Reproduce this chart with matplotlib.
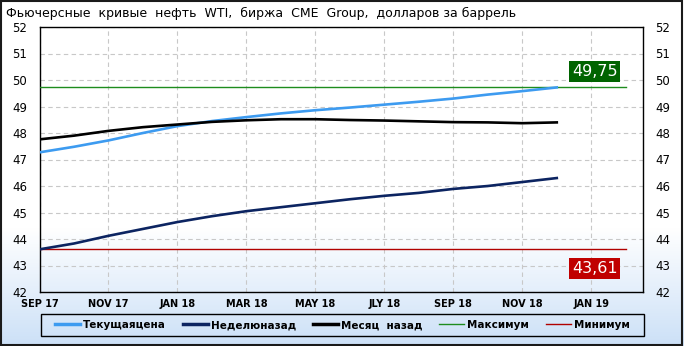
import matplotlib
matplotlib.use('Agg')
import numpy as np
import matplotlib.pyplot as plt
from matplotlib.lines import Line2D
from matplotlib.patches import Rectangle

# Данные (помесячно, SEP 17 .. DEC 18)
months = list(range(16))
current_price = [47.27, 47.48, 47.72, 48.00, 48.26, 48.45, 48.60, 48.74,
                 48.86, 48.96, 49.07, 49.18, 49.30, 49.45, 49.58, 49.72]
week_ago = [43.61, 43.83, 44.12, 44.38, 44.64, 44.86, 45.05, 45.20,
            45.35, 45.50, 45.63, 45.74, 45.89, 46.00, 46.15, 46.30]
month_ago = [47.76, 47.90, 48.08, 48.22, 48.32, 48.42, 48.48, 48.52,
             48.52, 48.49, 48.47, 48.44, 48.41, 48.40, 48.37, 48.40]
max_value = 49.75
min_value = 43.61

tick_pos = [0, 2, 4, 6, 8, 10, 12, 14, 16]
tick_labels = ["SEP 17", "NOV 17", "JAN 18", "MAR 18", "MAY 18",
               "JLY 18", "SEP 18", "NOV 18", "JAN 19"]
series_names = ["Текущаяцена", "Неделюназад", "Месяц  назад", "Максимум", "Минимум"]

C_BLUE = "#3d9bf0"
C_NAVY = "#0c2461"
C_BLACK = "#000000"
C_GREEN = "#1e8c1e"
C_RED = "#b00000"

W, H = 684, 346
fig = plt.figure(figsize=(W / 100, H / 100), dpi=100)

# фон с градиентом
bg = fig.add_axes([0, 0, 1, 1], zorder=-10)
rows = np.linspace(0, 1, H)
t = np.clip((rows - 0.66) / 0.34, 0, 1)[:, None]
top = np.array([1.0, 1.0, 1.0])
bottom = np.array([0.80, 0.88, 0.97])
grad = (1 - t) * top + t * bottom
bg.imshow(grad[:, None, :].repeat(2, axis=1), aspect='auto', extent=[0, 1, 0, 1])
bg.add_patch(Rectangle((0.002, 0.004), 0.995, 0.992, fill=False,
                       edgecolor="#1a1a1a", linewidth=1.5, transform=bg.transAxes))
# рамка легенды
bg.add_patch(Rectangle((41 / W, 1 - 336 / H), (644 - 41) / W, 22 / H, fill=False,
                       edgecolor="black", linewidth=1.0, transform=bg.transAxes))
bg.set_axis_off()

ax = fig.add_axes([39.5 / W, 1 - 292 / H, (643 - 39.5) / W, (292 - 27) / H])
ax.set_facecolor('none')

ax.plot(months, current_price, color=C_BLUE, lw=1.9, zorder=4)
ax.plot(months, week_ago, color=C_NAVY, lw=1.9, zorder=4)
ax.plot(months, month_ago, color=C_BLACK, lw=1.9, zorder=4)
ax.plot([0, 17], [max_value, max_value], color=C_GREEN, lw=1.0, zorder=3)
ax.plot([0, 17], [min_value, min_value], color=C_RED, lw=1.0, zorder=3)

ax.text(16.1, max_value + 0.57, f"{max_value:.2f}".replace('.', ','), color='white',
        fontsize=11.5, ha='center', va='center', zorder=5,
        bbox=dict(boxstyle='square,pad=0.18', facecolor="#006400", edgecolor='none'))
ax.text(16.1, min_value - 0.72, f"{min_value:.2f}".replace('.', ','), color='white',
        fontsize=11.5, ha='center', va='center', zorder=5,
        bbox=dict(boxstyle='square,pad=0.18', facecolor="#c00000", edgecolor='none'))

ax.set_xlim(0, 17.5)
ax.set_ylim(42, 52)
ax.set_yticks(range(42, 53))
ax.set_xticks(tick_pos)
ax.set_xticklabels(tick_labels, fontsize=7, fontweight='bold')
ax.tick_params(axis='x', length=0, pad=5)
ax.tick_params(axis='y', length=0, pad=9, labelsize=8.5, labelright=True)
ax.grid(True, color="#c8c8c8", linestyle=(0, (4, 3)), lw=0.8)
for s in ax.spines.values():
    s.set_color('black')
    s.set_linewidth(1.0)

fig.text(6 / W, 1 - 13 / H, "Фьючерсные  кривые  нефть  WTI,  биржа  CME  Group,  долларов за баррель",
         fontsize=9, va='center', ha='left')

handles = [Line2D([], [], color=C_BLUE, lw=2.5),
           Line2D([], [], color=C_NAVY, lw=2.5),
           Line2D([], [], color=C_BLACK, lw=2.5),
           Line2D([], [], color=C_GREEN, lw=1.0),
           Line2D([], [], color=C_RED, lw=1.0)]
leg = fig.legend(handles, series_names, loc='center', ncol=5,
                 bbox_to_anchor=(342.5 / W, 1 - 325 / H),
                 fontsize=7.5, frameon=False, handlelength=2.4,
                 handletextpad=0.3, columnspacing=1.6, borderaxespad=0)
for txt in leg.get_texts():
    txt.set_fontweight('semibold')

fig.savefig("out.png", dpi=100)
